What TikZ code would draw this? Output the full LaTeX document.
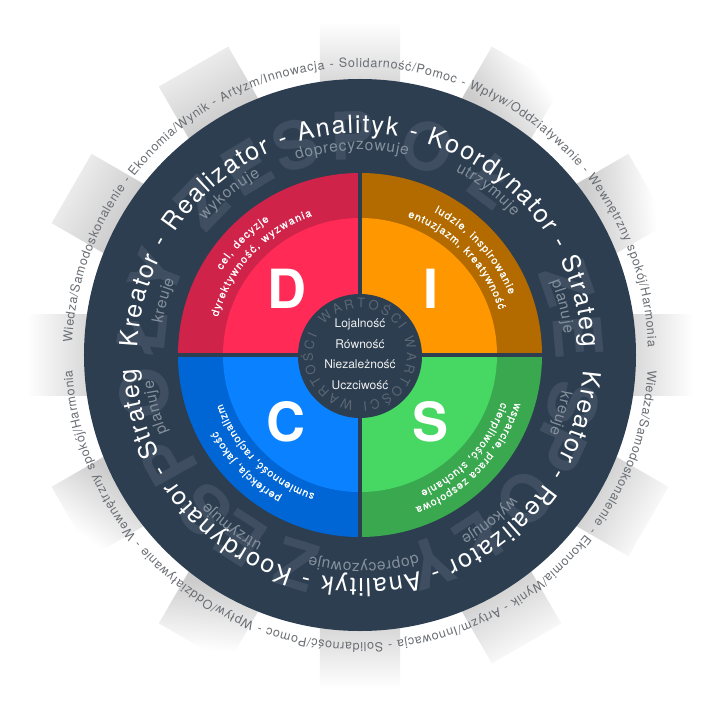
\documentclass[tikz,border=0pt]{standalone}
\usepackage{fontspec}
\setmainfont{TeX Gyre Heros}
\newfontfamily\quadfont[FakeBold=0.5]{TeX Gyre Heros}
\definecolor{ringdark}{HTML}{2C3E50}
\definecolor{ghostc}{HTML}{3F4F61}
\definecolor{ghostin}{HTML}{5A6673}
\definecolor{subc}{HTML}{85909C}
\definecolor{outc}{HTML}{6A6E73}
\definecolor{dout}{HTML}{D0234A}
\definecolor{din}{HTML}{FF2A55}
\definecolor{iout}{HTML}{B36B00}
\definecolor{iin}{HTML}{FF9800}
\definecolor{sout}{HTML}{39A84E}
\definecolor{sin}{HTML}{47D763}
\definecolor{cout}{HTML}{0066D6}
\definecolor{cin}{HTML}{0A82FF}
\newcommand\atplace[5]{\node[anchor=base,inner sep=0pt,outer sep=0pt,rotate=#1,text=#2] at (#3:#4pt) {#5};}
\newcommand\fOut{\fontsize{12.5}{15}\selectfont}
\newcommand\fMain{\fontsize{25}{30}\selectfont}
\newcommand\fSub{\fontsize{15.5}{18}\selectfont}
\newcommand\fQuad{\quadfont\fontsize{10.8}{13}\selectfont}
\newcommand\fWart{\fontsize{13}{15}\selectfont}
\ExplSyntaxOn
\dim_new:N \l_arc_total_dim
\dim_new:N \l_arc_pos_dim
\dim_new:N \l_arc_w_dim
\int_new:N \l_arc_n_int
\tl_new:N \l_arc_track_tl
\tl_new:N \l_arc_ang_tl
\cs_new_protected:Npn \arc_width:nn #1#2
 {
  \str_if_eq:nnTF {#2}{_}
   { \hbox_set:Nn \l_tmpa_box {\pgfinterruptpicture #1 \hskip 0.3em \endpgfinterruptpicture} }
   { \hbox_set:Nn \l_tmpa_box {\pgfinterruptpicture #1 #2 \endpgfinterruptpicture} }
  \dim_set:Nn \l_arc_w_dim {\box_wd:N \l_tmpa_box}
 }
\NewDocumentCommand{\arctxt}{mmmmmm}
 {
  \dim_zero:N \l_arc_total_dim
  \int_zero:N \l_arc_n_int
  \tl_map_inline:nn {#6}
   {
    \arc_width:nn {#4}{##1}
    \dim_add:Nn \l_arc_total_dim {\l_arc_w_dim}
    \int_incr:N \l_arc_n_int
   }
  \tl_set:Nx \l_arc_track_tl
   { \fp_eval:n { round( ( (#1)*((#3)-(#2))*pi/180 - \dim_to_decimal:n {\l_arc_total_dim} ) / ( \l_arc_n_int - 1 ) , 4) } }
  \dim_zero:N \l_arc_pos_dim
  \tl_map_inline:nn {#6}
   {
    \arc_width:nn {#4}{##1}
    \tl_set:Nx \l_arc_ang_tl
     { \fp_eval:n { round( (#2) + ( \dim_to_decimal:n {\l_arc_pos_dim} + \dim_to_decimal:n {\l_arc_w_dim}/2 ) / (#1) * 180/pi , 3) } }
    \str_if_eq:nnF {##1}{_}
     {
      \atplace
       { \fp_eval:n { - \l_arc_ang_tl } }
       {#5}
       { \fp_eval:n { 90 - \l_arc_ang_tl } }
       {#1}
       {#4 ##1}
     }
    \dim_add:Nn \l_arc_pos_dim { \l_arc_w_dim + \l_arc_track_tl pt }
   }
 }
\ExplSyntaxOff
\tikzset{
  ghostl/.style={anchor=base,inner sep=0pt,outer sep=0pt,text=ghostc,font=\fontsize{66}{70}\selectfont\bfseries},
  quadl/.style={text=white,inner sep=0pt,font=\fontsize{54}{60}\selectfont\bfseries},
  vall/.style={text=white!94!black,inner sep=0pt,font=\fontsize{12}{14}\selectfont},
}
\newcommand\grayrect[4]{\shade[transform canvas={rotate=-#1},bottom color=#3,top color=#4,shading angle=#2] (-40,270) rectangle (40,333);}
\begin{document}
\begin{tikzpicture}[x=1pt,y=1pt]
\useasboundingbox (-360,-365) rectangle (360,355);
\fill[white] (-360,-365) rectangle (360,355);
% grey bands
\grayrect{0}{0}{black!16}{white}
\grayrect{90}{0}{black!16}{white}
\grayrect{180}{0}{black!16}{white}
\grayrect{270}{0}{black!16}{white}
\grayrect{30}{-25}{black!20}{white}
\grayrect{60}{-25}{black!20}{white}
\grayrect{-30}{0}{black!20}{black!8}
\grayrect{-60}{0}{black!20}{black!8}
\grayrect{120}{0}{black!18}{black!3}
\grayrect{150}{0}{black!18}{black!3}
\grayrect{210}{25}{black!20}{white}
\grayrect{240}{25}{black!20}{white}
% ring
\fill[ringdark] (0,0) circle (276);
% large ghost letters
\foreach \a/\l in {-84/Ł,-68/Y,-46/Z,-31/E,-17/S,-2/P,18/O,37/Ł,71/Z,85/E,103/S,115/P,131/O,147/Ł,161/Y,197/Z,213/E,225/S,241/P,260/O}
  \node[ghostl,rotate=-\a] at (90-\a:195pt) {\l};
% quadrants
\fill[dout] (0,0) -- (180:182) arc (180:90:182) -- cycle;
\fill[iout] (0,0) -- (90:182) arc (90:0:182) -- cycle;
\fill[sout] (0,0) -- (0:182) arc (0:-90:182) -- cycle;
\fill[cout] (0,0) -- (-90:182) arc (-90:-180:182) -- cycle;
\fill[din] (0,0) -- (180:137) arc (180:90:137) -- cycle;
\fill[iin] (0,0) -- (90:137) arc (90:0:137) -- cycle;
\fill[sin] (0,0) -- (0:137) arc (0:-90:137) -- cycle;
\fill[cin] (0,0) -- (-90:137) arc (-90:-180:137) -- cycle;
\draw[ringdark,line width=4] (-183,0) -- (183,0);
\draw[ringdark,line width=4] (0,-183) -- (0,183);
\fill[ringdark] (0,-1) circle (62);
% letters
\node[quadl] (letD) at (-73,66) {D};
\node[quadl] (letI) at (71,66) {I};
\node[quadl] (letC) at (-74,-67) {C};
\node[quadl] (letS) at (71,-67) {S};
% centre
\arctxt{47}{-50}{295}{\fWart}{ghostin}{WARTOŚCI_WARTOŚCI_WARTOŚCI}
\node[vall] (v1) at (0,31) {Lojalność};
\node[vall] (v2) at (0,11) {Równość};
\node[vall] (v3) at (0,-9) {Niezależność};
\node[vall] (v4) at (0,-30) {Uczciwość};
% outer text
\arctxt{288}{-87.5}{88.4}{\fOut}{outc}{Wiedza/Samodoskonalenie_-_Ekonomia/Wynik_-_Artyzm/Innowacja_-_Solidarność/Pomoc_-_Wpływ/Oddziaływanie_-_Wewnętrzny_spokój/Harmonia}
\arctxt{288}{93}{267}{\fOut}{outc}{Wiedza/Samodoskonalenie_-_Ekonomia/Wynik_-_Artyzm/Innowacja_-_Solidarność/Pomoc_-_Wpływ/Oddziaływanie_-_Wewnętrzny_spokój/Harmonia}
% main white text
\arctxt{222}{-88}{88}{\fMain}{white}{Kreator_-_Realizator_-_Analityk_-_Koordynator_-_Strateg}
\arctxt{224}{94}{266.5}{\fMain}{white}{Kreator_-_Realizator_-_Analityk_-_Koordynator_-_Strateg}
% verbs
\arctxt{200}{-81}{-68}{\fSub}{subc}{kreuje}
\arctxt{205}{-49}{-29}{\fSub}{subc}{wykonuje}
\arctxt{205}{-18}{13.5}{\fSub}{subc}{doprecyzowuje}
\arctxt{207}{27.5}{48}{\fSub}{subc}{utrzymuje}
\arctxt{205}{69}{84}{\fSub}{subc}{planuje}
\arctxt{205}{100}{112.5}{\fSub}{subc}{kreuje}
\arctxt{208}{133}{151}{\fSub}{subc}{wykonuje}
\arctxt{208}{164}{194}{\fSub}{subc}{doprecyzowuje}
\arctxt{212}{207.5}{226}{\fSub}{subc}{utrzymuje}
\arctxt{208}{248}{263}{\fSub}{subc}{planuje}
% quadrant text
\arctxt{162}{-58.5}{-34}{\fQuad}{white}{cel,_decyzje}
\arctxt{147}{-75}{-19}{\fQuad}{white}{dyrektywność,_wyzwania}
\arctxt{161}{27.5}{68}{\fQuad}{white}{ludzie,_inspirowanie}
\arctxt{146}{19}{72}{\fQuad}{white}{entuzjazm,_kreatywność}
\arctxt{162}{107}{160}{\fQuad}{white}{wsparcie,_praca_zespołowa}
\arctxt{149}{108.5}{156}{\fQuad}{white}{cierpliwość,_słuchanie}
\arctxt{162}{209}{242}{\fQuad}{white}{perfekcja,_jakość}
\arctxt{146}{198}{250.5}{\fQuad}{white}{sumienność,_racjonalizm}
\end{tikzpicture}
\end{document}
